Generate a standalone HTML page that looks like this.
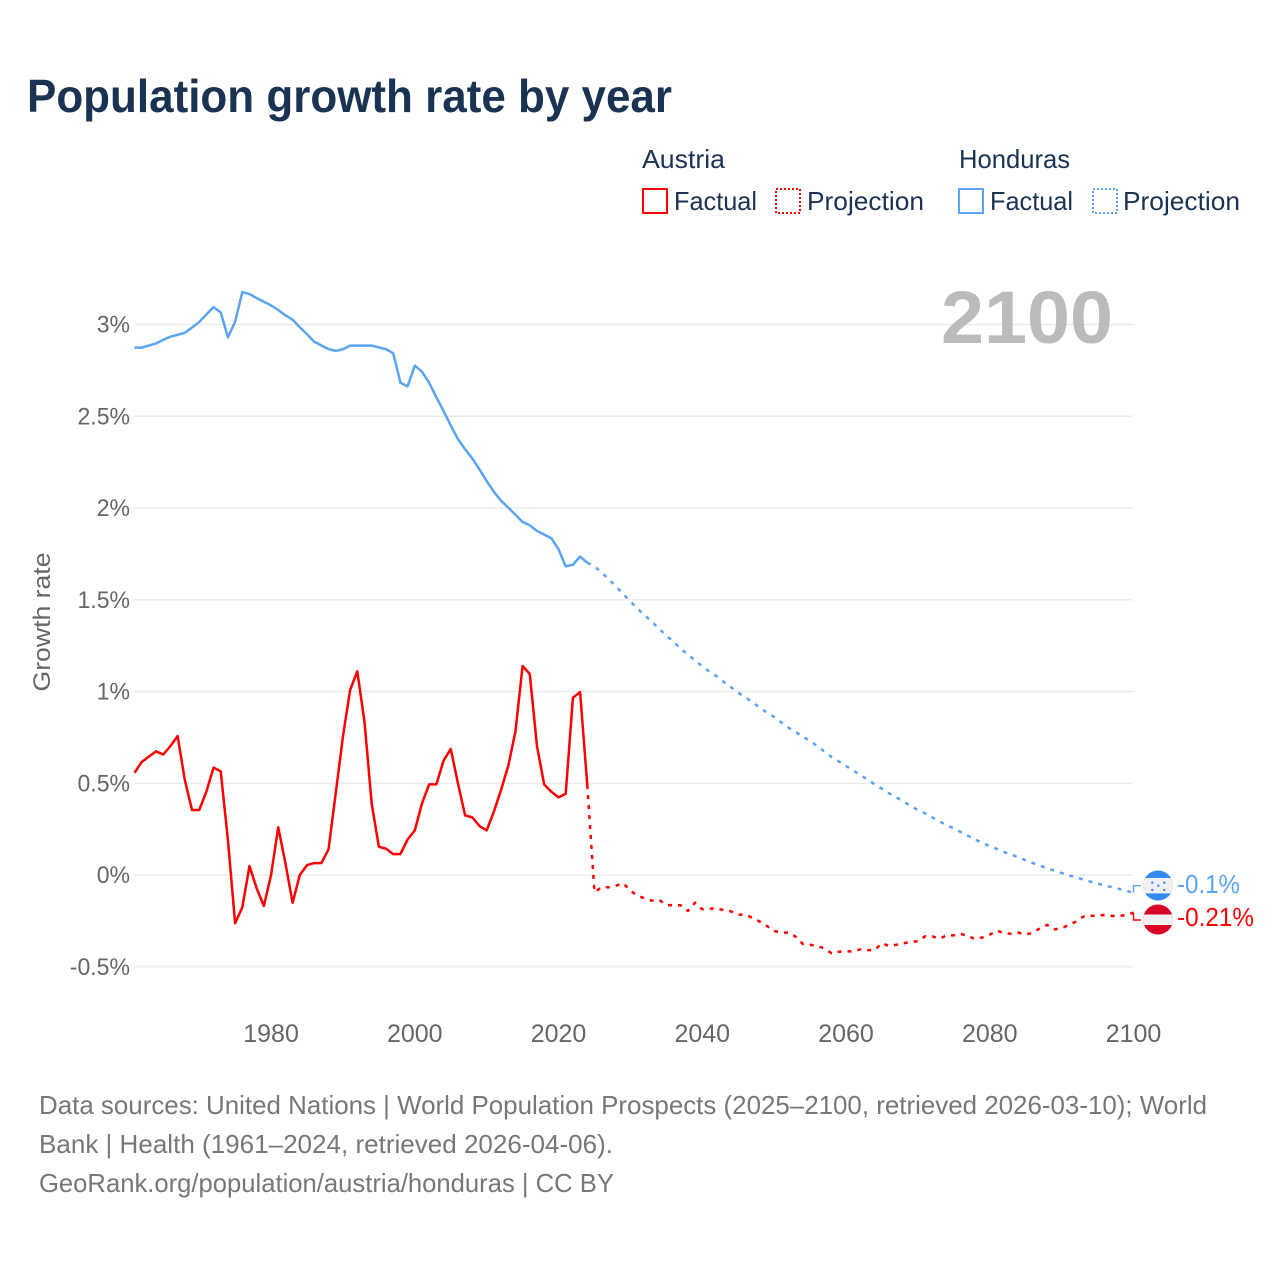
<!DOCTYPE html>
<html lang="en">
<head>
<meta charset="utf-8">
<title>Population growth rate by year</title>
<style>
  html, body { margin: 0; padding: 0; background: #ffffff; }
  #chart { display: block; width: 1280px; height: 1280px; font-family: "Liberation Sans", sans-serif; }
</style>
</head>
<body>
<svg id="chart" xmlns="http://www.w3.org/2000/svg" width="1280" height="1280" viewBox="0 0 1280 1280">
  <defs>
    <clipPath id="honduras-clip"><circle cx="1158" cy="885.5" r="15"/></clipPath>
    <clipPath id="austria-clip"><circle cx="1158" cy="919.5" r="15"/></clipPath>
  </defs>
  <rect x="0" y="0" width="1280" height="1280" fill="#ffffff"/>
  <text x="27" y="112" font-size="46" font-weight="700" fill="#1a3353" textLength="645" lengthAdjust="spacingAndGlyphs">Population growth rate by year</text>

  <g>
    <text x="642" y="168" font-size="26" fill="#1a3353" textLength="83" lengthAdjust="spacingAndGlyphs">Austria</text>
    <rect x="643" y="189" width="24" height="24" fill="none" stroke="#ff0000" stroke-width="2"/>
    <text x="674" y="210" font-size="26" fill="#1a3353" textLength="83" lengthAdjust="spacingAndGlyphs">Factual</text>
    <rect x="776" y="189" width="24" height="24" fill="none" stroke="#ff0000" stroke-width="2" stroke-dasharray="2 2"/>
    <text x="807" y="210" font-size="26" fill="#1a3353" textLength="117" lengthAdjust="spacingAndGlyphs">Projection</text>

    <text x="959" y="168" font-size="26" fill="#1a3353" textLength="111" lengthAdjust="spacingAndGlyphs">Honduras</text>
    <rect x="959" y="189" width="24" height="24" fill="none" stroke="#5ba4f0" stroke-width="2"/>
    <text x="990" y="210" font-size="26" fill="#1a3353" textLength="83" lengthAdjust="spacingAndGlyphs">Factual</text>
    <rect x="1093" y="189" width="24" height="24" fill="none" stroke="#5ba4f0" stroke-width="2" stroke-dasharray="2 2"/>
    <text x="1123" y="210" font-size="26" fill="#1a3353" textLength="117" lengthAdjust="spacingAndGlyphs">Projection</text>
  </g>

  <g id="grid"></g>
  <text x="1113" y="343" text-anchor="end" font-size="74" font-weight="700" fill="#bbbbbb" textLength="172" lengthAdjust="spacingAndGlyphs">2100</text>
  <g id="yticks"></g>
  <g id="xticks"></g>
  <text x="0" y="0" transform="translate(50 622) rotate(-90)" text-anchor="middle" font-size="24.5" fill="#666666" textLength="139" lengthAdjust="spacingAndGlyphs">Growth rate</text>

  <g id="series"></g>

  <g clip-path="url(#honduras-clip)">
    <rect x="1143" y="870" width="30" height="31" fill="#338af3"/>
    <rect x="1143" y="878" width="30" height="15.4" fill="#f0f0f0"/>
    <circle cx="1152.3" cy="882.7" r="1.2" fill="#338af3"/>
    <circle cx="1164.3" cy="882.7" r="1.2" fill="#338af3"/>
    <circle cx="1158.3" cy="885.7" r="1.2" fill="#338af3"/>
    <circle cx="1152.3" cy="890" r="1.2" fill="#338af3"/>
    <circle cx="1164.3" cy="890" r="1.2" fill="#338af3"/>
  </g>
  <g clip-path="url(#austria-clip)">
    <rect x="1143" y="904" width="30" height="31" fill="#d80027"/>
    <rect x="1143" y="914.5" width="30" height="10.5" fill="#f0f0f0"/>
  </g>
  <text x="1177" y="893" font-size="26" fill="#5ba4f0" textLength="63" lengthAdjust="spacingAndGlyphs">-0.1%</text>
  <text x="1177" y="926" font-size="26" fill="#ff0000" textLength="77" lengthAdjust="spacingAndGlyphs">-0.21%</text>

  <g>
    <text x="39" y="1114" font-size="26" fill="#777777" textLength="1168" lengthAdjust="spacingAndGlyphs">Data sources: United Nations | World Population Prospects (2025–2100, retrieved 2026-03-10); World</text>
    <text x="39" y="1153" font-size="26" fill="#777777" textLength="574" lengthAdjust="spacingAndGlyphs">Bank | Health (1961–2024, retrieved 2026-04-06).</text>
    <text x="39" y="1192" font-size="26" fill="#777777" textLength="575" lengthAdjust="spacingAndGlyphs">GeoRank.org/population/austria/honduras | CC BY</text>
  </g>
</svg>

<script>
const factualYears = [1961,1962,1963,1964,1965,1966,1967,1968,1969,1970,1971,1972,1973,1974,1975,1976,1977,1978,1979,1980,1981,1982,1983,1984,1985,1986,1987,1988,1989,1990,1991,1992,1993,1994,1995,1996,1997,1998,1999,2000,2001,2002,2003,2004,2005,2006,2007,2008,2009,2010,2011,2012,2013,2014,2015,2016,2017,2018,2019,2020,2021,2022,2023,2024];
const projectionYears = [2024,2025,2026,2027,2028,2029,2030,2031,2032,2033,2034,2035,2036,2037,2038,2039,2040,2041,2042,2043,2044,2045,2046,2047,2048,2049,2050,2051,2052,2053,2054,2055,2056,2057,2058,2059,2060,2061,2062,2063,2064,2065,2066,2067,2068,2069,2070,2071,2072,2073,2074,2075,2076,2077,2078,2079,2080,2081,2082,2083,2084,2085,2086,2087,2088,2089,2090,2091,2092,2093,2094,2095,2096,2097,2098,2099,2100];
const austriaFactual = [0.557,0.616,0.645,0.674,0.656,0.703,0.757,0.518,0.354,0.354,0.454,0.585,0.565,0.19,-0.263,-0.176,0.049,-0.073,-0.169,0.0,0.26,0.064,-0.151,0.0,0.054,0.065,0.065,0.14,0.447,0.754,1.008,1.11,0.835,0.39,0.154,0.143,0.114,0.114,0.194,0.243,0.39,0.494,0.494,0.623,0.687,0.5,0.325,0.314,0.267,0.243,0.345,0.463,0.594,0.781,1.139,1.095,0.703,0.494,0.454,0.423,0.443,0.966,0.997,0.49];
const austriaProjection = [0.49,-0.093,-0.067,-0.067,-0.058,-0.045,-0.085,-0.114,-0.127,-0.14,-0.136,-0.163,-0.165,-0.165,-0.196,-0.151,-0.187,-0.185,-0.18,-0.193,-0.198,-0.216,-0.216,-0.234,-0.254,-0.278,-0.305,-0.314,-0.314,-0.336,-0.376,-0.38,-0.387,-0.4,-0.427,-0.418,-0.416,-0.416,-0.405,-0.41,-0.408,-0.372,-0.387,-0.38,-0.372,-0.365,-0.361,-0.334,-0.334,-0.347,-0.329,-0.329,-0.322,-0.332,-0.35,-0.34,-0.325,-0.303,-0.318,-0.32,-0.314,-0.325,-0.314,-0.29,-0.272,-0.296,-0.29,-0.272,-0.254,-0.227,-0.222,-0.222,-0.218,-0.223,-0.223,-0.218,-0.205];
const hondurasFactual = [2.874,2.874,2.885,2.897,2.916,2.934,2.944,2.955,2.983,3.014,3.055,3.095,3.066,2.93,3.015,3.177,3.166,3.144,3.124,3.104,3.079,3.05,3.026,2.985,2.947,2.906,2.886,2.866,2.856,2.865,2.885,2.885,2.885,2.885,2.875,2.865,2.843,2.683,2.663,2.776,2.743,2.683,2.603,2.529,2.45,2.376,2.32,2.27,2.21,2.147,2.089,2.04,2.002,1.963,1.924,1.906,1.875,1.855,1.835,1.775,1.682,1.691,1.735,1.702];
const hondurasProjection = [1.702,1.682,1.649,1.611,1.573,1.531,1.491,1.451,1.415,1.379,1.342,1.304,1.272,1.233,1.201,1.17,1.137,1.108,1.083,1.052,1.023,0.994,0.968,0.941,0.912,0.885,0.861,0.832,0.803,0.779,0.754,0.73,0.703,0.672,0.643,0.619,0.594,0.57,0.543,0.521,0.494,0.47,0.445,0.423,0.401,0.376,0.354,0.336,0.314,0.292,0.272,0.254,0.233,0.213,0.194,0.173,0.158,0.142,0.125,0.111,0.096,0.08,0.065,0.051,0.036,0.024,0.011,-0.002,-0.013,-0.025,-0.036,-0.047,-0.056,-0.067,-0.076,-0.087,-0.096];
const yTickValues = [3,2.5,2,1.5,1,0.5,0,-0.5];
const yTickLabels = ['3%','2.5%','2%','1.5%','1%','0.5%','0%','-0.5%'];
const xTickValues = [1980,2000,2020,2040,2060,2080,2100];
const xTickLabels = ['1980','2000','2020','2040','2060','2080','2100'];

const SVG_NS = 'http://www.w3.org/2000/svg';
const COLOR_RED = '#ff0000';
const COLOR_BLUE = '#5ba4f0';

function xScale(year) {
  return 134.5 + (year - 1961) * (1133.5 - 134.5) / (2100 - 1961);
}
function yScale(value) {
  return 875 - value * 183.5;
}
function linePath(years, values) {
  return values.map(function (v, i) {
    return (i === 0 ? 'M' : 'L') + xScale(years[i]).toFixed(2) + ' ' + yScale(v).toFixed(2);
  }).join(' ');
}
function drawLine(parent, years, values, color, dash) {
  const path = document.createElementNS(SVG_NS, 'path');
  path.setAttribute('d', linePath(years, values));
  path.setAttribute('fill', 'none');
  path.setAttribute('stroke', color);
  path.setAttribute('stroke-width', '2.5');
  path.setAttribute('stroke-linejoin', 'round');
  if (dash) path.setAttribute('stroke-dasharray', dash);
  parent.appendChild(path);
  return path;
}

const grid = document.getElementById('grid');
const yTicksGroup = document.getElementById('yticks');
const xTicksGroup = document.getElementById('xticks');
const seriesGroup = document.getElementById('series');

yTickValues.forEach(function (v, i) {
  const rule = document.createElementNS(SVG_NS, 'line');
  
  
  rule.setAttribute('x1', '134');
  rule.setAttribute('x2', '1133');
  rule.setAttribute('y1', yScale(v));
  rule.setAttribute('y2', yScale(v));
  rule.setAttribute('stroke', '#e8e8e8');
  rule.setAttribute('stroke-width', '1.2');
  grid.appendChild(rule);

  const label = document.createElementNS(SVG_NS, 'text');
  
  
  label.setAttribute('x', '130');
  label.setAttribute('y', yScale(v) + 8);
  label.setAttribute('text-anchor', 'end');
  label.setAttribute('font-size', '24');
  label.setAttribute('fill', '#666666');
  label.textContent = yTickLabels[i];
  yTicksGroup.appendChild(label);
  label.setAttribute('lengthAdjust', 'spacingAndGlyphs');
  label.setAttribute('textLength', (label.getComputedTextLength() * 0.96).toFixed(1));
});

xTickValues.forEach(function (v, i) {
  const label = document.createElementNS(SVG_NS, 'text');
  
  
  label.setAttribute('x', xScale(v));
  label.setAttribute('y', '1042');
  label.setAttribute('text-anchor', 'middle');
  label.setAttribute('font-size', '25');
  label.setAttribute('fill', '#666666');
  label.textContent = xTickLabels[i];
  xTicksGroup.appendChild(label);
});

const hondurasFactualLine = drawLine(seriesGroup, factualYears, hondurasFactual, COLOR_BLUE, null);



const hondurasProjectionLine = drawLine(seriesGroup, projectionYears, hondurasProjection, COLOR_BLUE, '4 6');



const austriaFactualLine = drawLine(seriesGroup, factualYears, austriaFactual, COLOR_RED, null);



const austriaProjectionLine = drawLine(seriesGroup, projectionYears, austriaProjection, COLOR_RED, '4 6');



function drawLeader(values, flagY, color) {
  const endX = xScale(projectionYears[projectionYears.length - 1]);
  const endY = yScale(values[values.length - 1]);
  const leader = document.createElementNS(SVG_NS, 'path');
  leader.setAttribute('d', 'M' + endX + ' ' + endY + ' V' + flagY + ' H1141');
  leader.setAttribute('fill', 'none');
  leader.setAttribute('stroke', color);
  leader.setAttribute('stroke-width', '1.4');
  seriesGroup.appendChild(leader);
  return leader;
}

const hondurasLeader = drawLeader(hondurasProjection, 885.7, COLOR_BLUE);



const austriaLeader = drawLeader(austriaProjection, 920, COLOR_RED);


</script>
</body>
</html>
